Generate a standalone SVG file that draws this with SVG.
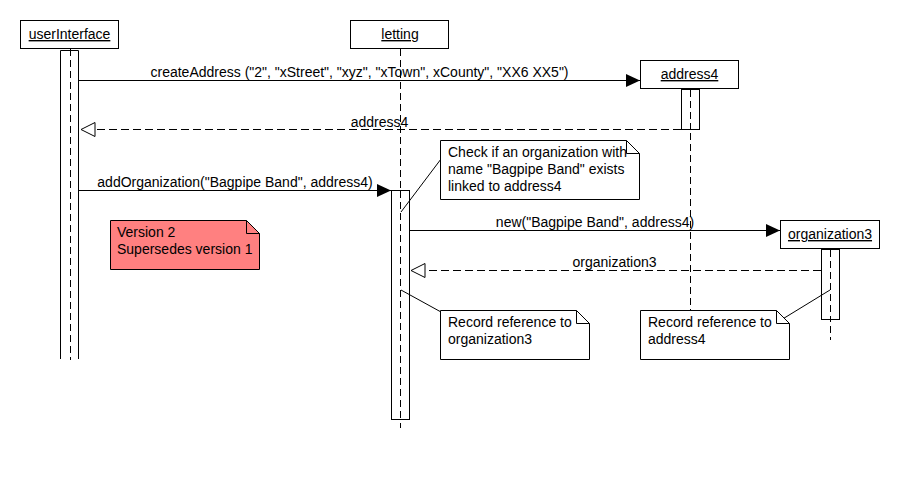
<svg xmlns="http://www.w3.org/2000/svg" width="900" height="490" viewBox="0 0 900 490">
  <style>
    text { font-family: "Liberation Sans", Arial, sans-serif; font-size: 14px; fill: #000; }
    .box { fill: #fff; stroke: #000; stroke-width: 1; }
    .act { fill: #fff; stroke: #000; stroke-width: 1; }
    .life { stroke: #000; stroke-width: 1; stroke-dasharray: 7 4; fill: none; }
    .msg { stroke: #000; stroke-width: 1; fill: none; }
    .ret { stroke: #000; stroke-width: 1; stroke-dasharray: 8 4; fill: none; }
    .note { fill: #fff; stroke: #000; stroke-width: 1; }
    .warn { fill: #ff8080; stroke: #000; stroke-width: 1; }
    .link { stroke: #000; stroke-width: 1; fill: none; }
    .mid { text-anchor: middle; }
    .u { text-decoration: underline; }
  </style>
  <defs>
    <marker id="solidHead" markerUnits="userSpaceOnUse" markerWidth="15" markerHeight="14" refX="14" refY="6.5" orient="auto">
      <path d="M0,0 L14,6.5 L0,13 Z" fill="#000"/>
    </marker>
    <marker id="openHead" markerUnits="userSpaceOnUse" markerWidth="16" markerHeight="16" refX="14.5" refY="7.5" orient="auto">
      <path d="M0.5,0.5 L14.5,7.5 L0.5,14.5 Z" fill="#fff" stroke="#000" stroke-width="1"/>
    </marker>
  </defs>

  <!-- lifelines -->
  <g id="lifelines">
    <line class="life" x1="70.5" y1="49" x2="70.5" y2="360"/>
    <line class="life" x1="400.5" y1="49" x2="400.5" y2="428"/>
    <line class="life" x1="690.5" y1="89" x2="690.5" y2="311"/>
    <line class="life" x1="830.5" y1="249" x2="830.5" y2="340"/>
  </g>

  <!-- participant: userInterface -->
  <g id="userInterface">
    <rect class="box" x="20.5" y="20.5" width="98" height="28"/>
    <text class="mid u" x="69.5" y="39">userInterface</text>
    <path class="msg" d="M60.5,50.5 H78.5 M60.5,50.5 V352 M78.5,50.5 V352"/>
    <path class="life" d="M60.5,352 V360 M78.5,352 V360"/>
  </g>

  <!-- participant: letting -->
  <g id="letting">
    <rect class="box" x="350.5" y="20.5" width="98" height="28"/>
    <text class="mid u" x="400" y="39">letting</text>
    <rect class="act" x="391.5" y="190.5" width="18" height="229"/>
    <line class="life" x1="400.5" y1="191" x2="400.5" y2="419"/>
  </g>

  <!-- participant: address4 -->
  <g id="address4">
    <rect class="box" x="640.5" y="60.5" width="98" height="28"/>
    <text class="mid u" x="689.5" y="79">address4</text>
    <rect class="act" x="681.5" y="89.5" width="18" height="40"/>
    <line class="life" x1="690.5" y1="90" x2="690.5" y2="129"/>
  </g>

  <!-- participant: organization3 -->
  <g id="organization3">
    <rect class="box" x="780.5" y="220.5" width="99" height="28"/>
    <text class="mid u" x="830" y="239">organization3</text>
    <rect class="act" x="821.5" y="249.5" width="18" height="70"/>
    <line class="life" x1="830.5" y1="250" x2="830.5" y2="319"/>
  </g>

  <!-- messages -->
  <g id="connectors">
    <line class="msg" x1="79" y1="80.5" x2="640" y2="80.5" marker-end="url(#solidHead)"/>
    <line class="ret" x1="681" y1="129.5" x2="81" y2="129.5" marker-end="url(#openHead)"/>
    <line class="msg" x1="79" y1="190.5" x2="391" y2="190.5" marker-end="url(#solidHead)"/>
    <line class="msg" x1="410" y1="230.5" x2="780" y2="230.5" marker-end="url(#solidHead)"/>
    <line class="ret" x1="821" y1="270.5" x2="411" y2="270.5" marker-end="url(#openHead)"/>
    <!-- note anchors -->
    <line class="link" x1="441" y1="159" x2="401" y2="212"/>
    <line class="link" x1="401" y1="290" x2="441" y2="312"/>
    <line class="link" x1="781" y1="320" x2="830" y2="290"/>
  </g>

  <g id="labels">
    <text class="mid" x="359.5" y="77">createAddress ("2", "xStreet", "xyz", "xTown", xCounty", "XX6 XX5")</text>
    <text class="mid" x="379.5" y="127">address4</text>
    <text class="mid" x="235" y="187">addOrganization("Bagpipe Band", address4)</text>
    <text class="mid" x="595" y="227">new("Bagpipe Band", address4)</text>
    <text class="mid" x="614.5" y="267">organization3</text>
  </g>

  <!-- notes -->
  <g id="noteCheck">
    <path class="note" d="M440.5,140.5 H626.5 L639.5,153.5 V199.5 H440.5 Z"/>
    <path class="link" d="M626.5,140.5 V153.5 H639.5"/>
    <text x="448" y="157">Check if an organization with</text>
    <text x="448" y="174">name "Bagpipe Band" exists</text>
    <text x="448" y="191">linked to address4</text>
  </g>

  <g id="noteVersion">
    <path class="warn" d="M110.5,220.5 H246.5 L259.5,233.5 V269.5 H110.5 Z"/>
    <path class="link" d="M246.5,220.5 V233.5 H259.5"/>
    <text x="117" y="237" fill="#300">Version 2</text>
    <text x="117" y="254" fill="#300">Supersedes version 1</text>
  </g>

  <g id="noteOrganization">
    <path class="note" d="M440.5,310.5 H576.5 L589.5,323.5 V359.5 H440.5 Z"/>
    <path class="link" d="M576.5,310.5 V323.5 H589.5"/>
    <text x="448" y="327">Record reference to</text>
    <text x="448" y="344">organization3</text>
  </g>

  <g id="noteAddress">
    <path class="note" d="M640.5,310.5 H776.5 L789.5,323.5 V359.5 H640.5 Z"/>
    <path class="link" d="M776.5,310.5 V323.5 H789.5"/>
    <text x="648" y="327">Record reference to</text>
    <text x="648" y="344">address4</text>
  </g>
</svg>
